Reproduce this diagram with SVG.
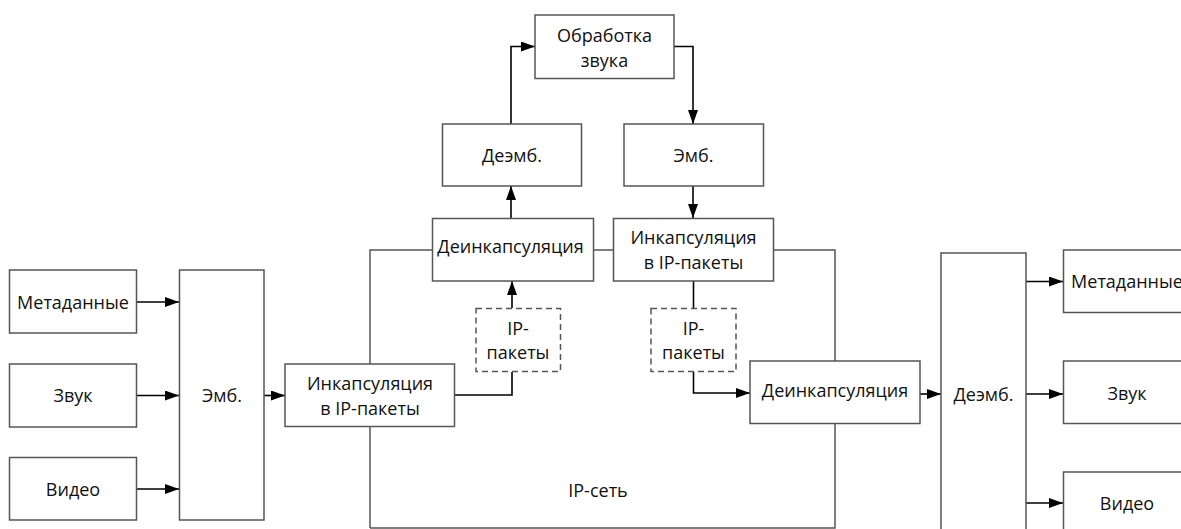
<svg xmlns="http://www.w3.org/2000/svg" width="1181" height="529" viewBox="0 0 1181 529">
<style>
.b{fill:#fff;stroke:#555;stroke-width:1.5}
.d{fill:#fff;stroke:#555;stroke-width:1.5;stroke-dasharray:6 4}
.n{fill:none;stroke:#555;stroke-width:1.5}
.c{fill:none;stroke:#000;stroke-width:1.6}
text{font-family:"Open Sans","Liberation Sans",Arial,sans-serif;font-size:18px;fill:#111;text-anchor:middle}
</style>
<defs>
<marker id="a" viewBox="0 0 14 10" refX="14" refY="5" markerWidth="14" markerHeight="10" markerUnits="userSpaceOnUse" orient="auto">
<path d="M0,0 L14,5 L0,10 z" fill="#000"/>
</marker>
</defs>
<g id="ipnet">
<path class="n" d="M370,528 L370,250 L432,250 M593,250 L613,250 M774,250 L835,250 L835,528 L370,528"/>
<text x="598" y="496.5">IP-сеть</text>
</g>
<g id="connectors">
<path class="c" d="M137,302 H179" marker-end="url(#a)"/>
<path class="c" d="M137,395.5 H179" marker-end="url(#a)"/>
<path class="c" d="M137,489 H179" marker-end="url(#a)"/>
<path class="c" d="M264,395.5 H285" marker-end="url(#a)"/>
<path class="c" d="M455,395 H512 V372"/>
<path class="c" d="M512,308 V281" marker-end="url(#a)"/>
<path class="c" d="M511,218 V186" marker-end="url(#a)"/>
<path class="c" d="M511,124 V46.5 H535" marker-end="url(#a)"/>
<path class="c" d="M674,46.5 H693 V124" marker-end="url(#a)"/>
<path class="c" d="M693,186 V218" marker-end="url(#a)"/>
<path class="c" d="M693.5,281 V308"/>
<path class="c" d="M693.5,372 V393 H750" marker-end="url(#a)"/>
<path class="c" d="M920,394 H941" marker-end="url(#a)"/>
<path class="c" d="M1026,281.5 H1063" marker-end="url(#a)"/>
<path class="c" d="M1026,394 H1063" marker-end="url(#a)"/>
<path class="c" d="M1026,503 H1063" marker-end="url(#a)"/>
</g>
<g id="meta-in"><rect class="b" x="9.5" y="270" width="127" height="63"/><text x="73" y="308.5">Метаданные</text></g>
<g id="zvuk-in"><rect class="b" x="9.5" y="364" width="127" height="63"/><text x="73" y="402">Звук</text></g>
<g id="video-in"><rect class="b" x="9.5" y="457.5" width="127" height="62.5"/><text x="73" y="495.5">Видео</text></g>
<g id="emb-left"><rect class="b" x="179.5" y="270" width="84.5" height="250"/><text x="222" y="402">Эмб.</text></g>
<g id="encap-left"><rect class="b" x="285" y="364" width="169.5" height="62.5"/><text x="370" y="389.5">Инкапсуляция</text><text x="370" y="414.5">в IP-пакеты</text></g>
<g id="ip-left"><rect class="d" x="476" y="308.5" width="84.5" height="63"/><text x="518" y="334.5">IP-</text><text x="518" y="359">пакеты</text></g>
<g id="decap-top"><rect class="b" x="432.5" y="218.5" width="161" height="62.5"/><text x="510.5" y="253">Деинкапсуляция</text></g>
<g id="demb-top"><rect class="b" x="442.5" y="124" width="139" height="62"/><text x="512" y="161.5">Деэмб.</text></g>
<g id="proc"><rect class="b" x="535" y="15" width="139" height="63.5"/><text x="604.5" y="41.5">Обработка</text><text x="604.5" y="66.5">звука</text></g>
<g id="emb-top"><rect class="b" x="624" y="124" width="139.5" height="62"/><text x="693.5" y="161.5">Эмб.</text></g>
<g id="encap-top"><rect class="b" x="613.5" y="218.5" width="160" height="62.5"/><text x="693.5" y="244">Инкапсуляция</text><text x="693.5" y="268.5">в IP-пакеты</text></g>
<g id="ip-right"><rect class="d" x="651" y="308.5" width="85" height="63"/><text x="693.5" y="334.5">IP-</text><text x="693.5" y="359">пакеты</text></g>
<g id="decap-right"><rect class="b" x="750" y="361" width="170" height="62.5"/><text x="835" y="396.5">Деинкапсуляция</text></g>
<g id="demb-right"><rect class="b" x="941" y="253" width="85" height="290"/><text x="983.5" y="400.5">Деэмб.</text></g>
<g id="meta-out"><rect class="b" x="1063.5" y="250" width="130" height="62.5"/><text x="1127" y="288">Метаданные</text></g>
<g id="zvuk-out"><rect class="b" x="1063.5" y="361" width="130" height="62.5"/><text x="1127" y="400">Звук</text></g>
<g id="video-out"><rect class="b" x="1063.5" y="472" width="130" height="62.5"/><text x="1127" y="510">Видео</text></g>
</svg>
